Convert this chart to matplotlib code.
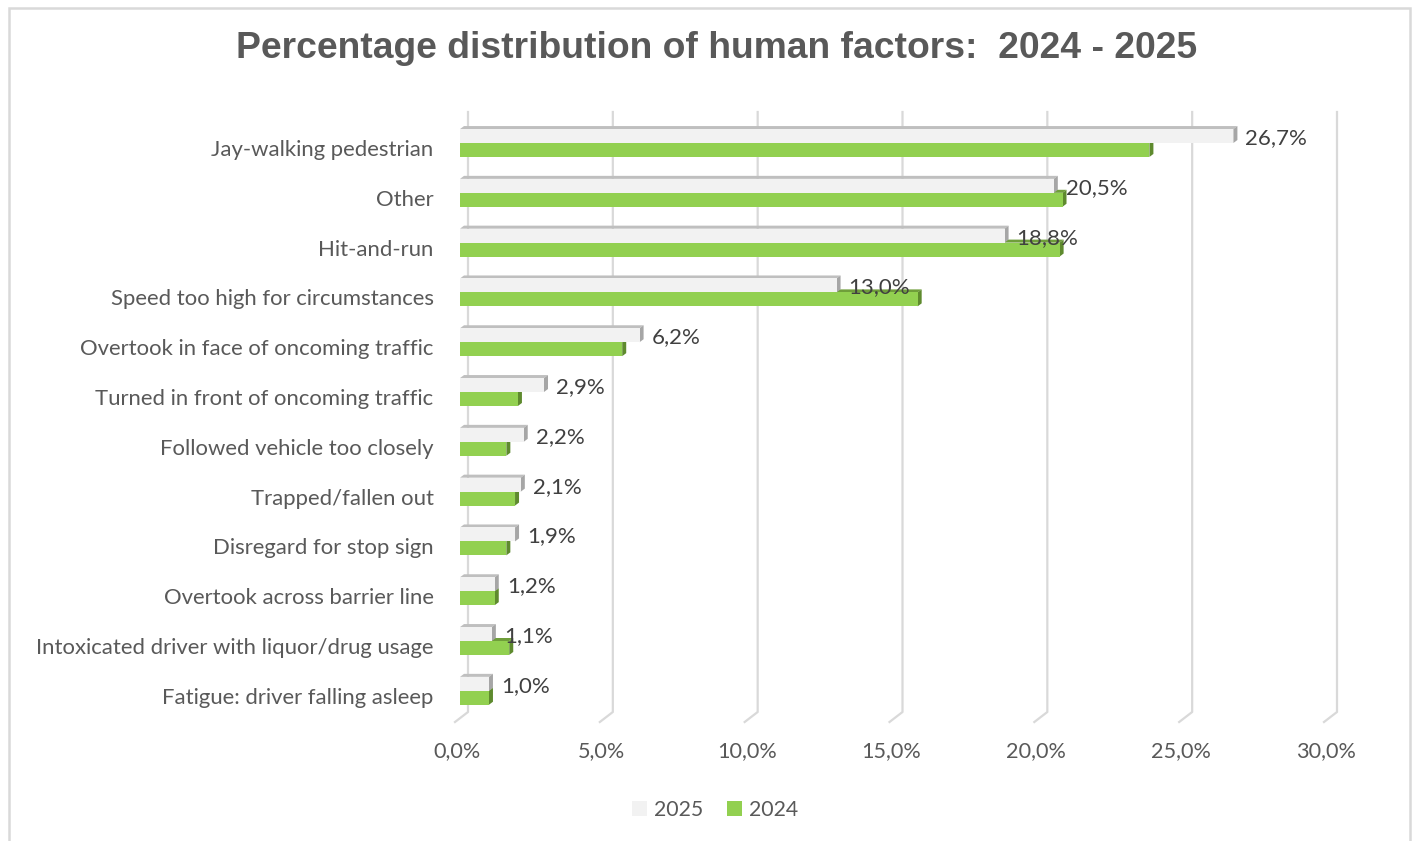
import matplotlib
matplotlib.use("Agg")
import matplotlib.pyplot as plt
import matplotlib.transforms as mtransforms
from matplotlib.patches import Polygon, Rectangle
from matplotlib.lines import Line2D

# categories from top to bottom
factores = [
    "Jay-walking pedestrian",
    "Other",
    "Hit-and-run",
    "Speed too high for circumstances",
    "Overtook in face of oncoming traffic",
    "Turned in front of oncoming traffic",
    "Followed vehicle too closely",
    "Trapped/fallen out",
    "Disregard for stop sign",
    "Overtook across barrier line",
    "Intoxicated driver with liquor/drug usage",
    "Fatigue: driver falling asleep",
]
valores_2025 = [26.7, 20.5, 18.8, 13.0, 6.2, 2.9, 2.2, 2.1, 1.9, 1.2, 1.1, 1.0]
valores_2024 = [23.8, 20.8, 20.7, 15.8, 5.6, 2.0, 1.6, 1.9, 1.6, 1.2, 1.7, 1.0]
ticks_x = [0, 5, 10, 15, 20, 25, 30]

texto = "#595959"
rejilla = "#d9d9d9"
estilos = {
    "2025": {"frente": "#f2f2f2", "arriba": "#bfbfbf", "lado": "#a6a6a6"},
    "2024": {"frente": "#92d050", "arriba": "#6f9e3a", "lado": "#5e8a2e"},
}
fuente = "Lato"

W, H = 1412, 841
fig = plt.figure(figsize=(W / 100, H / 100), dpi=100)
fig.patch.set_facecolor("white")

# plot area: bars start at x=460 px, row band from y=112 to y=722 px
x0_px, x30_px = 460, 1329
top_px, bottom_px = 112, 722
ax = fig.add_axes([x0_px / W, 1 - bottom_px / H, (x30_px - x0_px) / W, (bottom_px - top_px) / H])
ax.set_xlim(0, 30)
paso = 49.8
ax.set_ylim((bottom_px - 143) / paso, (top_px - 143) / paso)
for s in ax.spines.values():
    s.set_visible(False)
ax.patch.set_alpha(0)

# pixel -> data conversion for the 3D depth
px_x = (x30_px - x0_px) / 30.0
px_y = paso
dx, dy = 4 / px_x, 3 / px_y

# back wall gridlines with the small floor diagonal
y_suelo = (712 - 143) / paso
y_frente = ax.get_ylim()[0]
y_arriba = ax.get_ylim()[1]
for v in ticks_x:
    xb = v + 8 / px_x
    xf = v - 5 / px_x
    ax.add_line(Line2D([xb, xb, xf], [y_arriba, y_suelo, y_frente], color=rejilla, lw=1.6,
                       zorder=1, clip_on=False))

alto = 0.28


def barra_3d(y_top, largo, col, z):
    y_bot = y_top + alto
    ax.add_patch(Rectangle((0, y_top), largo, alto, facecolor=col["frente"], edgecolor="none", zorder=z + 0.2))
    ax.add_patch(Polygon([(0, y_top), (largo, y_top), (largo + dx, y_top - dy), (dx, y_top - dy)],
                         closed=True, facecolor=col["arriba"], edgecolor="none", zorder=z))
    ax.add_patch(Polygon([(largo, y_top), (largo + dx, y_top - dy), (largo + dx, y_bot - dy), (largo, y_bot)],
                         closed=True, facecolor=col["lado"], edgecolor="none", zorder=z + 0.1))


for i in range(len(factores)):
    barra_3d(i, valores_2024[i], estilos["2024"], 2)
    barra_3d(i - alto, valores_2025[i], estilos["2025"], 3)

# value labels for 2025
off_lbl = mtransforms.offset_copy(ax.transData, fig=fig, x=12, y=-2, units="dots")
for i, v in enumerate(valores_2025):
    ax.text(v, i - alto / 2, f"{v:.1f}%".replace(".", ","), transform=off_lbl, ha="left", va="center",
            fontsize=16, color="#404040", family=fuente, zorder=6)

# category labels
ax.set_yticks(range(len(factores)))
ax.set_yticklabels(factores)
ax.tick_params(axis="y", length=0, pad=19)
desp_y = mtransforms.ScaledTranslation(0, -5 / 100, fig.dpi_scale_trans)
for lbl in ax.get_yticklabels():
    lbl.set_transform(lbl.get_transform() + desp_y)
    lbl.set_fontsize(15.9)
    lbl.set_color(texto)
    lbl.set_family(fuente)

ax.set_xticks(ticks_x)
ax.set_xticklabels([f"{t:.1f}%".replace(".", ",") for t in ticks_x])
ax.tick_params(axis="x", length=0, pad=14)
desp_x = mtransforms.ScaledTranslation(-3 / 100, 0, fig.dpi_scale_trans)
for lbl in ax.get_xticklabels():
    lbl.set_transform(lbl.get_transform() + desp_x)
    lbl.set_fontsize(15.6)
    lbl.set_color(texto)
    lbl.set_family(fuente)

fig.text(717 / W, 1 - 48 / H, "Percentage distribution of human factors:  2024 - 2025",
         ha="center", va="center", fontsize=26.8, fontweight="bold", color=texto,
         family="Liberation Sans")

# legend
manijas = [Rectangle((0, 0), 1, 1, facecolor=estilos[k]["frente"], edgecolor="none") for k in ("2025", "2024")]
leg = fig.legend(manijas, ["2025", "2024"], loc="center", bbox_to_anchor=(715 / W, 1 - 810 / H),
                 ncol=2, frameon=False, handlelength=0.7, handleheight=0.7, handletextpad=0.35,
                 columnspacing=1.1, prop={"family": fuente, "size": 15.3})
for t in leg.get_texts():
    t.set_color(texto)

# chart border
fig.add_artist(Rectangle((8.5 / W, -0.05), (1409.5 - 8.5) / W, 1.05 - 8.5 / H,
                         transform=fig.transFigure, fill=False, edgecolor=rejilla, lw=1.8))

fig.savefig("out.png", dpi=100, facecolor="white")
